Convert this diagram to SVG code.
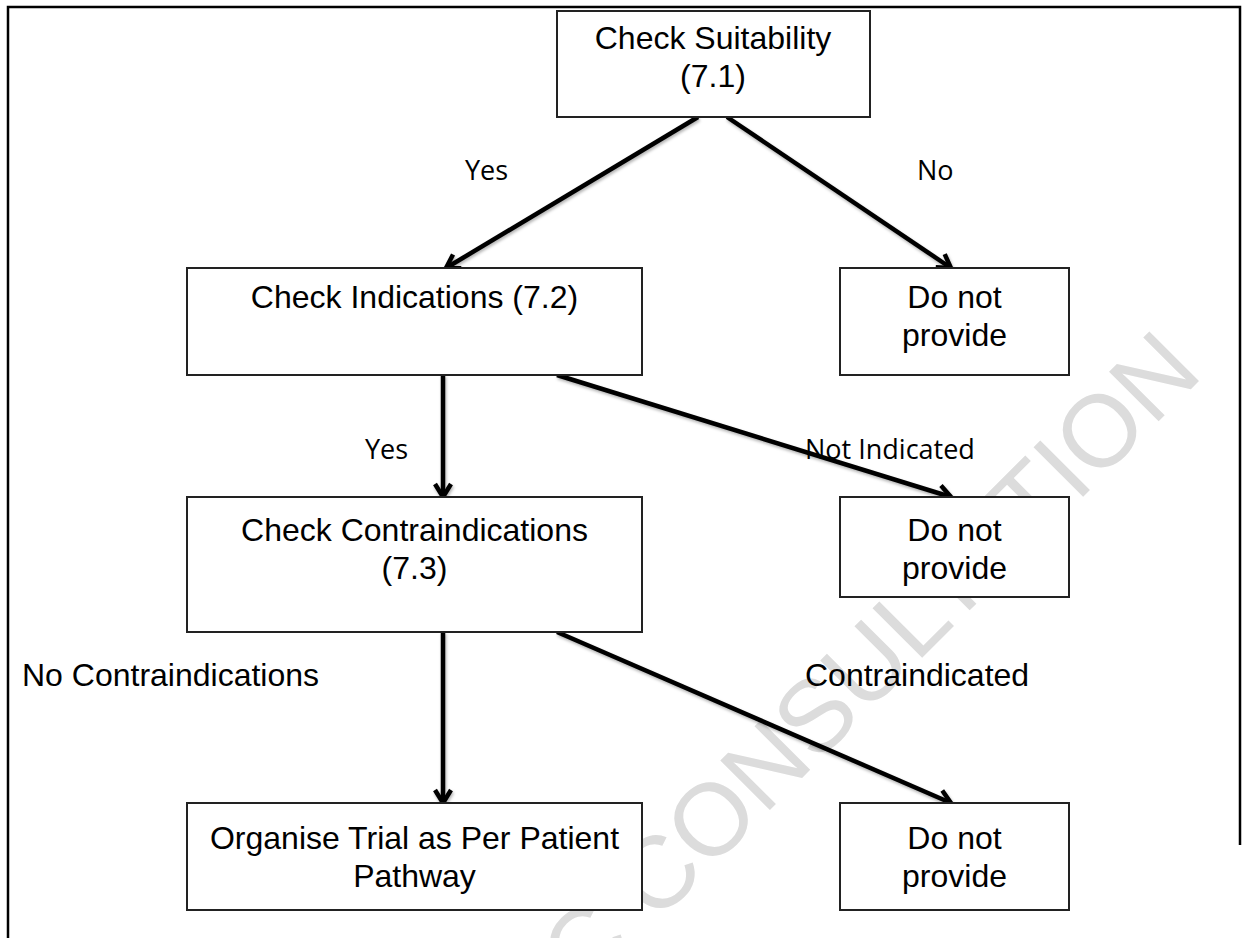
<svg xmlns="http://www.w3.org/2000/svg" width="1248" height="938" viewBox="0 0 1248 938">
<style>
.box{fill:#fff;stroke:#222;stroke-width:2}
.nt{font-family:"Liberation Sans",Arial,sans-serif;font-size:32px;fill:#000;text-anchor:middle}
.lbl{font-family:"Open Sans","Liberation Sans",sans-serif;font-size:27px;fill:#000}
.lbla{font-family:"Liberation Sans",Arial,sans-serif;font-size:32px;fill:#000}
.con{stroke:#000;stroke-width:4.5;fill:none;marker-end:url(#ah)}
.frame{stroke:#000;stroke-width:2.5;fill:none}
.wm{font-family:"Liberation Sans",Arial,sans-serif;font-size:102px;fill:#dcdcdc}
</style>
<defs>
<marker id="ah" markerUnits="userSpaceOnUse" viewBox="0 0 24 24" markerWidth="24" markerHeight="24" refX="20" refY="12" orient="auto">
<path d="M7,4 L20,12 L7,20" fill="none" stroke="#000" stroke-width="4.5" stroke-linejoin="miter"/>
</marker>
<filter id="sh" x="-10%" y="-10%" width="120%" height="120%">
<feDropShadow dx="1" dy="2" stdDeviation="1.5" flood-color="#000" flood-opacity="0.3"/>
</filter>
</defs>
<rect width="1248" height="938" fill="#fff"/>
<g id="watermark">
<text class="wm" transform="translate(790,790) rotate(-45)" text-anchor="middle">PUBLIC CONSULTATION</text>
</g>
<g id="frame">
<path class="frame" d="M8,938 L8,7 L1240,7 L1240,845"/>
</g>
<g id="connectors" filter="url(#sh)">
<line class="con" x1="698" y1="117" x2="446" y2="268"/>
<line class="con" x1="727" y1="117" x2="951" y2="268"/>
<line class="con" x1="443" y1="375" x2="443" y2="497"/>
<line class="con" x1="557" y1="375" x2="951" y2="497"/>
<line class="con" x1="443" y1="632" x2="443" y2="803"/>
<line class="con" x1="557" y1="632" x2="951" y2="803"/>
</g>
<g id="labels">
<text class="lbl" x="465" y="180">Yes</text>
<text class="lbl" x="917" y="180">No</text>
<text class="lbl" x="365" y="459">Yes</text>
<text class="lbl" x="805" y="459">Not Indicated</text>
<text class="lbla" x="22" y="686">No Contraindications</text>
<text class="lbla" x="805" y="686">Contraindicated</text>
</g>
<g id="n1">
<rect class="box" x="557" y="11" width="313" height="106"/>
<text class="nt" x="713" y="49">Check Suitability</text>
<text class="nt" x="713" y="87">(7.1)</text>
</g>
<g id="n2">
<rect class="box" x="187" y="268" width="455" height="107"/>
<text class="nt" x="414.5" y="308">Check Indications (7.2)</text>
</g>
<g id="n3">
<rect class="box" x="840" y="268" width="229" height="107"/>
<text class="nt" x="954.5" y="308">Do not</text>
<text class="nt" x="954.5" y="346">provide</text>
</g>
<g id="n4">
<rect class="box" x="187" y="497" width="455" height="135"/>
<text class="nt" x="414.5" y="541">Check Contraindications</text>
<text class="nt" x="414.5" y="579">(7.3)</text>
</g>
<g id="n5">
<rect class="box" x="840" y="497" width="229" height="100"/>
<text class="nt" x="954.5" y="541">Do not</text>
<text class="nt" x="954.5" y="579">provide</text>
</g>
<g id="n6">
<rect class="box" x="187" y="803" width="455" height="107"/>
<text class="nt" x="414.5" y="849">Organise Trial as Per Patient</text>
<text class="nt" x="414.5" y="887">Pathway</text>
</g>
<g id="n7">
<rect class="box" x="840" y="803" width="229" height="107"/>
<text class="nt" x="954.5" y="849">Do not</text>
<text class="nt" x="954.5" y="887">provide</text>
</g>
</svg>
